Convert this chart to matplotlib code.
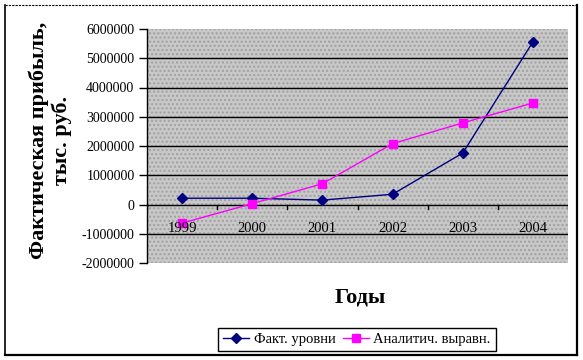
import numpy as np
import matplotlib
matplotlib.use("Agg")
import matplotlib.pyplot as plt
from matplotlib.patches import Rectangle
from matplotlib.lines import Line2D

plt.rcParams['font.family'] = ['Liberation Serif', 'DejaVu Serif']

# данные
years = ['1999', '2000', '2001', '2002', '2003', '2004']
fact = [215000, 215000, 150000, 350000, 1760000, 5560000]
trend = [-635000, 30000, 710000, 2080000, 2790000, 3470000]
y_ticks = [-2000000, -1000000, 0, 1000000, 2000000, 3000000, 4000000, 5000000, 6000000]

fig = plt.figure(figsize=(5.83, 3.6), dpi=100)
ax = fig.add_axes([147 / 583, 1 - 263 / 360, 421 / 583, 234 / 360])

# фон области построения
ax.set_facecolor('#c8c8c8')
ax.add_patch(Rectangle((0, 0), 1, 1, transform=ax.transAxes, facecolor='none',
                       edgecolor='#a0a0a0', hatch='....', linewidth=0, zorder=0))

x = np.arange(len(years))
ax.set_xlim(-0.5, len(years) - 0.5)
ax.set_ylim(y_ticks[0], y_ticks[-1])

# линии сетки
for v in y_ticks[1:-1]:
    ax.axhline(v, color='black', linewidth=1, zorder=1)

ax.plot(x, fact, color='#000080', marker='D', markersize=5, linewidth=1, zorder=3,
        label='Факт. уровни')
ax.plot(x, trend, color='#ff00ff', marker='s', markersize=6, linewidth=1, zorder=3,
        label='Аналитич. выравн.')

for s in ['top', 'right', 'bottom']:
    ax.spines[s].set_visible(False)
ax.spines['left'].set_linewidth(1)

ax.set_yticks(y_ticks)
ax.set_yticklabels([str(v) for v in y_ticks], fontsize=10)
ax.tick_params(axis='y', direction='out', length=6, width=1, pad=3)
ax.set_xticks([])

# категориальная ось на нуле
for i in range(len(years) + 1):
    ax.plot([i - 0.5, i - 0.5], [0, -170000], color='black', linewidth=1, zorder=2)
for i, yr in enumerate(years):
    ax.text(i, -830000, yr, ha='center', va='center', fontsize=10.5, zorder=4)

fig.text(50 / 583, 1 - 140 / 360, 'Фактическая прибыль,\nтыс. руб.', rotation=90,
         ha='center', va='center', fontsize=16, fontweight='bold', linespacing=1.15)
fig.text(360 / 583, 1 - 297 / 360, 'Годы', ha='center', va='center',
         fontsize=16, fontweight='bold')

leg = fig.legend(loc='center', bbox_to_anchor=(357 / 583, 1 - 339.5 / 360), ncol=2,
                 fontsize=10.5, frameon=True, fancybox=False, framealpha=1,
                 edgecolor='black', handlelength=1.8, columnspacing=0.5,
                 handletextpad=0.3, borderpad=0.35, borderaxespad=0)
leg.get_frame().set_linewidth(1)

# рамка диаграммы
fig.add_artist(Line2D([5 / 583, 577 / 583], [1 - 5 / 360, 1 - 5 / 360],
                      transform=fig.transFigure, color='black', linewidth=0.8,
                      linestyle=(0, (2, 1))))
fig.add_artist(Line2D([5 / 583, 5 / 583], [1 - 5 / 360, 1 - 355 / 360],
                      transform=fig.transFigure, color='black', linewidth=1.2))
fig.add_artist(Line2D([5 / 583, 577 / 583], [1 - 355 / 360, 1 - 355 / 360],
                      transform=fig.transFigure, color='black', linewidth=1.6))
fig.add_artist(Line2D([577 / 583, 577 / 583], [1 - 5 / 360, 1 - 355 / 360],
                      transform=fig.transFigure, color='black', linewidth=1.6))

fig.savefig('out.png', dpi=100)
